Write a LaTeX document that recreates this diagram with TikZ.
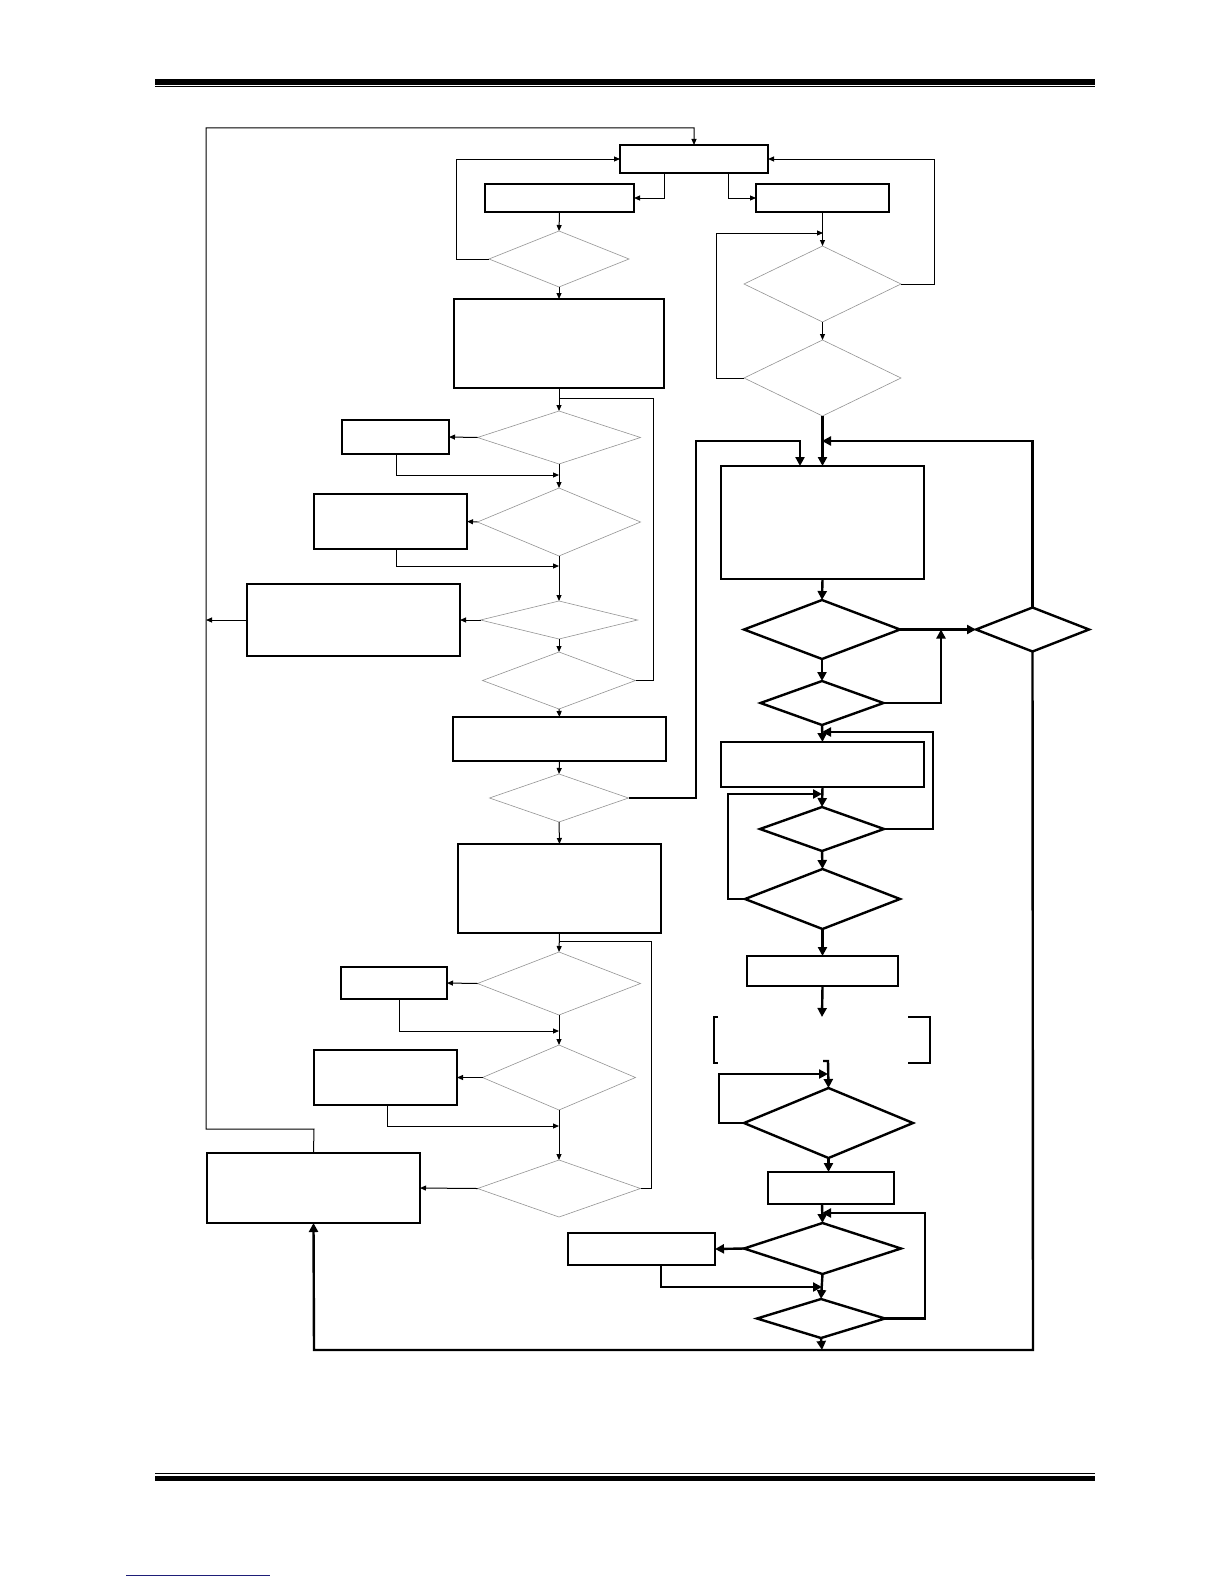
\documentclass[tikz,border=0pt]{standalone}
\usetikzlibrary{shapes.geometric,arrows.meta}
\begin{document}
\begin{tikzpicture}[x=1pt,y=-1pt]
\tikzset{
 lbox/.style={draw, rectangle, line width=1.2pt, inner sep=0pt, outer sep=0pt},
 ldia/.style={draw=gray!85, diamond, line width=0.6pt, inner sep=0pt, outer sep=0pt},
 rbox/.style={draw, rectangle, line width=2.4pt, inner sep=0pt, outer sep=0pt},
 rdia/.style={draw, diamond, line width=2.4pt, inner sep=0pt, outer sep=0pt},
 tln/.style={line width=1pt},
 tarr/.style={line width=1pt, -{Triangle[length=6pt,width=5pt]}},
 kln/.style={line width=2.4pt},
 karr/.style={line width=2.4pt, -{Triangle[length=9pt,width=9pt]}},
 bar/.style={fill=black, draw=none}
}
\useasboundingbox (0,0) rectangle (1224,1584);
% header / footer
\fill[bar] (155,79) rectangle (1095,85);
\draw[line width=1pt] (155,86.6) -- (1095,86.6);
\draw[line width=1pt] (155,1473.3) -- (1095,1473.3);
\fill[bar] (155,1476) rectangle (1095,1481);
\draw[line width=1pt, color={rgb,255:red,30;green,30;blue,120}] (126,1575) -- (270,1575);

% ---------- left column nodes ----------
\node[lbox, minimum width=148pt, minimum height=28pt] (T0) at (694,159) {};
\node[lbox, minimum width=149pt, minimum height=28pt] (L1) at (559.5,198) {};
\node[lbox, minimum width=133pt, minimum height=28pt] (R0) at (822.5,198) {};
\node[ldia, minimum width=140pt, minimum height=56pt] (D1) at (559,259) {};
\node[lbox, minimum width=210pt, minimum height=89pt] (B1) at (559,343.5) {};
\node[ldia, minimum width=163pt, minimum height=53pt] (D2) at (559,437.5) {};
\node[lbox, minimum width=107pt, minimum height=34pt] (S1) at (395.5,437) {};
\node[ldia, minimum width=163pt, minimum height=68pt] (D3) at (559,522) {};
\node[lbox, minimum width=153pt, minimum height=55pt] (S2) at (390.5,521.5) {};
\node[ldia, minimum width=157pt, minimum height=38pt] (D4) at (559,620) {};
\node[lbox, minimum width=213pt, minimum height=72pt] (S3) at (353.5,620) {};
\node[ldia, minimum width=153pt, minimum height=57pt] (D5) at (559,680.5) {};
\node[lbox, minimum width=213pt, minimum height=44pt] (B2) at (559.5,739) {};
\node[ldia, minimum width=139pt, minimum height=48pt] (D6) at (559,798) {};
\node[lbox, minimum width=203pt, minimum height=89pt] (B3) at (559.5,888.5) {};
\node[ldia, minimum width=163pt, minimum height=63pt] (D7) at (559,983.5) {};
\node[lbox, minimum width=106pt, minimum height=32pt] (S4) at (394,983) {};
\node[ldia, minimum width=153pt, minimum height=65pt] (D8) at (559,1077.5) {};
\node[lbox, minimum width=143pt, minimum height=55pt] (S5) at (385.5,1077.5) {};
\node[ldia, minimum width=163pt, minimum height=57pt] (D9) at (559,1188.5) {};
\node[lbox, minimum width=213pt, minimum height=70pt] (S6) at (313.5,1188) {};

% ---------- right column nodes ----------
\node[ldia, minimum width=157pt, minimum height=76pt] (DR1) at (822.5,284) {};
\node[ldia, minimum width=157pt, minimum height=76pt] (DR2) at (822.5,378) {};
\node[rbox, minimum width=203pt, minimum height=113pt] (R1) at (822.5,522.5) {};
\node[rdia, minimum width=156pt, minimum height=59pt] (DR3) at (822,629.5) {};
\node[rdia, minimum width=113pt, minimum height=44pt] (DR5) at (1032.5,629.5) {};
\node[rdia, minimum width=123pt, minimum height=44pt] (DR4) at (822,703) {};
\node[rbox, minimum width=203pt, minimum height=45pt] (R2) at (822.5,764.5) {};
\node[rdia, minimum width=124pt, minimum height=44pt] (DR6) at (822,829) {};
\node[rdia, minimum width=155pt, minimum height=60pt] (DR7) at (822.5,899) {};
\node[rbox, minimum width=151pt, minimum height=30pt] (R3) at (822.5,971) {};
\node[rdia, minimum width=169pt, minimum height=70pt] (DR8) at (828.5,1123) {};
\node[rbox, minimum width=126pt, minimum height=32pt] (R4) at (831,1188) {};
\node[rdia, minimum width=157pt, minimum height=51pt] (DR9) at (822.5,1248.5) {};
\node[rbox, minimum width=147pt, minimum height=32pt] (R5) at (641.5,1249) {};
\node[rdia, minimum width=128pt, minimum height=39pt] (DR10) at (821,1318.5) {};

% named junctions
\coordinate (jA) at (559,475);
\coordinate (jB) at (559,566);
\coordinate (jC) at (559,1031);
\coordinate (jD) at (559,1126);
\coordinate (jE) at (823,233);
\coordinate (jF) at (822,441);
\coordinate (jG) at (941,629.5);
\coordinate (jH) at (822,732);
\coordinate (jI) at (822,794);
\coordinate (jJ) at (822,1017);
\coordinate (jK) at (828,1074);
\coordinate (jL) at (822,1213);
\coordinate (jM) at (822,1287);
\coordinate (jN) at (822,1350);
\coordinate (jO) at (559,398);
\coordinate (jP) at (559,941);
\coordinate (jQ) at (823,1061);

% brackets
\draw[kln] (718,1017) -- (714,1017) -- (714,1063) -- (718,1063);
\draw[kln] (908,1017) -- (930,1017) -- (930,1063) -- (908,1063);

% ---------- left connectors ----------
\draw[tarr] (S6.north) -- (314,1129) -- (206,1129) -- (206,128) -- (694,128) -- (T0.north);
\draw[tarr] (S3.west) -- (206,0 |- S3.west);
\draw[tarr] (664,0 |- T0.south) |- (L1.east);
\draw[tarr] (728,0 |- T0.south) |- (R0.west);
\draw[tarr] (D1.west) -- (456,0 |- D1.west) |- (T0.west);
\draw[tarr] (L1.south) -- (D1.north);
\draw[tarr] (D1.south) -- (B1.north);
\draw[tarr] (B1.south) -- (D2.north);
\draw[tln] (D5.east) -| (653,398) -- (jO);
\draw[tarr] (D2.west) -- (S1.east);
\draw[tarr] (396,0 |- S1.south) |- (jA);
\draw[tarr] (D2.south) -- (D3.north);
\draw[tarr] (D3.west) -- (S2.east);
\draw[tarr] (396,0 |- S2.south) |- (jB);
\draw[tarr] (D3.south) -- (D4.north);
\draw[tarr] (D4.west) -- (S3.east);
\draw[tarr] (D4.south) -- (D5.north);
\draw[tarr] (D5.south) -- (B2.north);
\draw[tarr] (B2.south) -- (D6.north);
\draw[tarr] (D6.south) -- (B3.north);
\draw[tarr] (B3.south) -- (D7.north);
\draw[tln] (D9.east) -| (651,941) -- (jP);
\draw[tarr] (D7.west) -- (S4.east);
\draw[tarr] (399,0 |- S4.south) |- (jC);
\draw[tarr] (D7.south) -- (D8.north);
\draw[tarr] (D8.west) -- (S5.east);
\draw[tarr] (387,0 |- S5.south) |- (jD);
\draw[tarr] (D8.south) -- (D9.north);
\draw[tarr] (D9.west) -- (S6.east);

% ---------- right connectors (thin) ----------
\draw[tarr] (R0.south) -- (DR1.north);
\draw[tarr] (DR1.east) -| (934,159) -- (T0.east);
\draw[tarr] (DR2.west) -| (716,233) -- (jE);
\draw[tarr] (DR1.south) -- (DR2.north);

% ---------- right connectors (thick) ----------
\draw[karr] (DR2.south) -- (R1.north);
\draw[karr] (D6.east) -| (696,441) -| (800,0 |- R1.north);
\draw[karr] (DR5.north) |- (jF);
\draw[karr] (R1.south) -- (DR3.north);
\draw[karr] (DR3.east) -- (DR5.west);
\draw[karr] (DR3.south) -- (DR4.north);
\draw[karr] (DR4.east) -| (jG);
\draw[karr] (DR4.south) -- (R2.north);
\draw[karr] (DR6.east) -| (933,732) -- (jH);
\draw[karr] (R2.south) -- (DR6.north);
\draw[karr] (DR7.west) -| (728,794) -- (jI);
\draw[karr] (DR6.south) -- (DR7.north);
\draw[karr] (DR7.south) -- (R3.north);
\draw[karr] (R3.south) -- (jJ);
\draw[karr] (jQ) -- (828,1061) -- (DR8.north);
\draw[karr] (DR8.west) -| (719,1074) -- (jK);
\draw[karr] (DR8.south) -- (DR8.south |- R4.north);
\draw[karr] (822,0 |- R4.south) -- (DR9.north);
\draw[karr] (DR10.east) -| (925,1213) -- (jL);
\draw[karr] (DR9.west) -- (R5.east);
\draw[karr] (661,0 |- R5.south) |- (jM);
\draw[karr] (DR9.south) -- (DR10.north);
\draw[karr] (DR10.south) -- (jN);
\draw[karr] (DR5.south) -- (1033,1350) -- (314,1350) -- (S6.south);
\end{tikzpicture}
\end{document}
